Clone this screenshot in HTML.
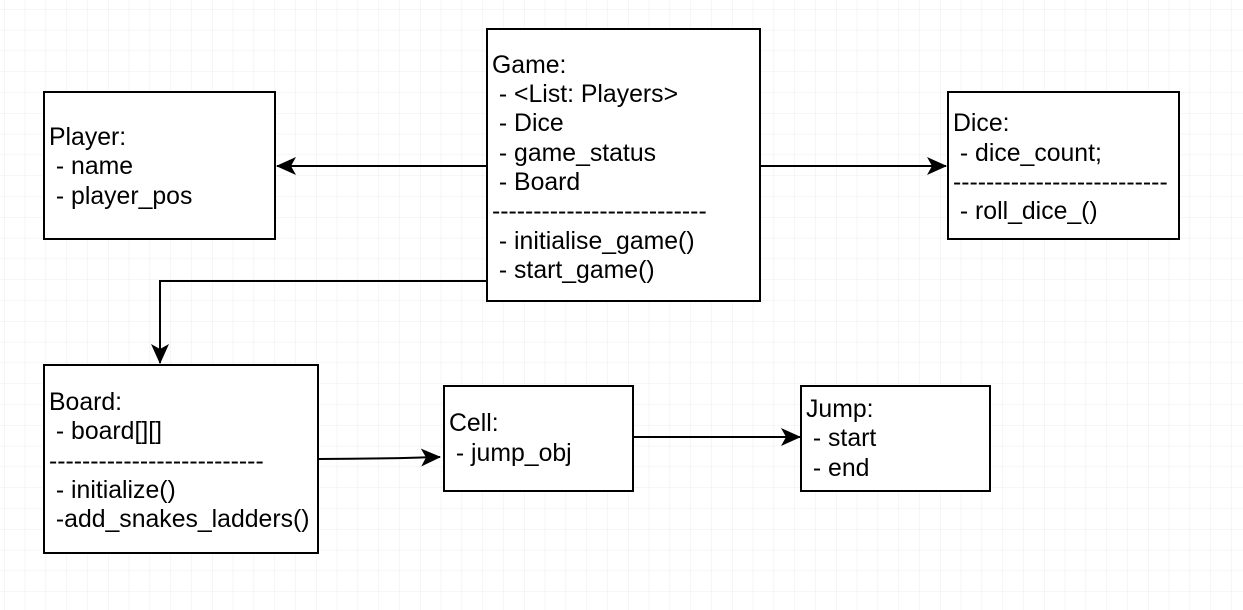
<!DOCTYPE html>
<html><head><meta charset="utf-8"><style>
html,body{margin:0;padding:0;background:#fff;}
svg{display:block;}
text{font-family:"Liberation Sans",Arial,sans-serif;font-size:24.8px;fill:#000;}
</style></head><body>
<svg width="1243" height="610" viewBox="0 0 1243 610" xmlns="http://www.w3.org/2000/svg">
<defs>
<pattern id="g" x="4" y="9" width="20.8" height="20.8" patternUnits="userSpaceOnUse">
<path d="M0 0H20.8M0 0V20.8" stroke="#ececec" stroke-width="1" fill="none"/>
</pattern>
<marker id="a" markerWidth="22" markerHeight="22" refX="19" refY="10" orient="auto" markerUnits="userSpaceOnUse">
<path d="M0 1L20 10L0 19L5 10Z" fill="#000"/>
</marker>
</defs>
<rect width="1243" height="610" fill="url(#g)"/>
<g fill="#fff" stroke="#000" stroke-width="2">
<rect x="44" y="92" width="231" height="147"/>
<rect x="487" y="29" width="273" height="272"/>
<rect x="948" y="92" width="231" height="147"/>
<rect x="44" y="365" width="274" height="188"/>
<rect x="444" y="386" width="189" height="105"/>
<rect x="801" y="386" width="189" height="105"/>
</g>
<g stroke="#000" stroke-width="2" fill="none">
<path d="M487 166H277" marker-end="url(#a)"/>
<path d="M760 166H946" marker-end="url(#a)"/>
<path d="M487 281H160V363" marker-end="url(#a)"/>
<path d="M318 459C380 459 400 458 440 457" marker-end="url(#a)"/>
<path d="M633 437H800" marker-end="url(#a)"/>
</g>
<text x="49" y="145">Player:</text>
<text x="49" y="174">&#160;- name</text>
<text x="49" y="204">&#160;- player_pos</text>
<text x="492" y="73">Game:</text>
<text x="492" y="102">&#160;- &lt;List: Players&gt;</text>
<text x="492" y="131">&#160;- Dice</text>
<text x="492" y="161">&#160;- game_status</text>
<text x="492" y="190">&#160;- Board</text>
<text x="492" y="219">--------------------------</text>
<text x="492" y="249">&#160;- initialise_game()</text>
<text x="492" y="278">&#160;- start_game()</text>
<text x="953" y="131">Dice:</text>
<text x="953" y="161">&#160;- dice_count;</text>
<text x="953" y="190">--------------------------</text>
<text x="953" y="219">&#160;- roll_dice_()</text>
<text x="49" y="410">Board:</text>
<text x="49" y="439">&#160;- board[][]</text>
<text x="49" y="469">--------------------------</text>
<text x="49" y="498">&#160;- initialize()</text>
<text x="49" y="527">&#160;-add_snakes_ladders()</text>
<text x="449" y="431">Cell:</text>
<text x="449" y="461">&#160;- jump_obj</text>
<text x="806" y="417">Jump:</text>
<text x="806" y="446">&#160;- start</text>
<text x="806" y="476">&#160;- end</text>
</svg>
</body></html>
